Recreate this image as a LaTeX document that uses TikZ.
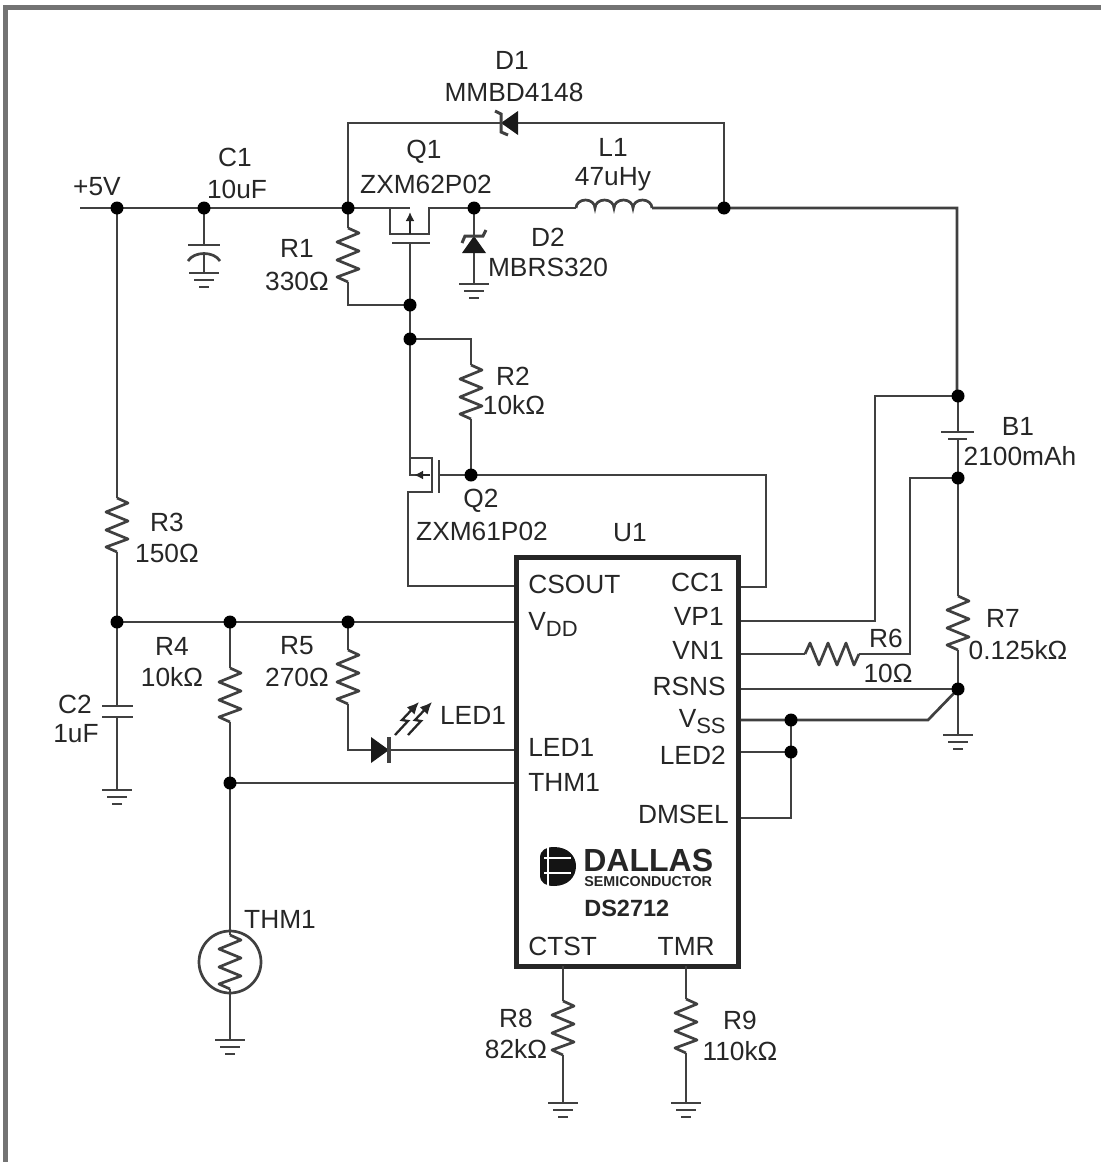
\documentclass[tikz,border=0pt]{standalone}
\usepackage{fontspec}
\setmainfont{Liberation Sans}
\usetikzlibrary{arrows.meta}
\newcommand{\pinsub}[2]{#1\raisebox{-6pt}{\fontsize{22}{22}\selectfont #2}}

\begin{document}
\begin{tikzpicture}[
  x=1pt,y=-1pt,
  line width=2.7pt,
  wire/.style={draw=black!75},
  frame/.style={draw=black!55,line width=5pt},
  chip/.style={draw=black!85,line width=5pt},
  lab/.style={inner sep=0pt,text=black!85,font=\fontsize{26.3}{28}\selectfont},
  pinl/.style={lab,anchor=west},
  pinr/.style={lab,anchor=east},
  dot/.style={fill=black,radius=6.5pt},
  resistor/.pic={
    \coordinate (-a) at (0,-27);
    \coordinate (-b) at (0,27);
    \draw[wire,line join=round] (-a) -- (11,-22) -- (-11,-13) -- (11,-4) -- (-11,5) -- (11,14) -- (-11,22) -- (-b);
  },
  ground/.pic={
    \draw[wire] (-15,0) -- (15,0) (-10,7) -- (10,7) (-5,14) -- (5,14);
  },
  diode/.pic={
    \fill[black!90] (0,-1) -- (13,17) -- (-13,17) -- cycle;
    \draw[wire,line width=3.5pt] (-13,-1) -- (13,-1);
  },
  schottky/.pic={
    \fill[black!90] (0,-1) -- (12,16) -- (-12,16) -- cycle;
    \draw[wire,line width=3pt] (-12,6) -- (-9,-1) -- (9,-1) -- (12,-7);
  },
  coil/.pic={
    \draw[wire] (0,0) foreach \i in {1,...,4} {arc[start angle=180,end angle=360,x radius=9.5,y radius=8]};
  },
  ledray/.pic={
    \draw[line width=2.3pt,draw=black!85,-{Latex[length=12pt,width=11pt]}] (0,0) -- (13,-14) -- (7,-15) -- (24,-33);
  },
]
\useasboundingbox (0,0) rectangle (1101,1162);
\draw[frame] (5,1162) -- (5,7) -- (1101,7);

\coordinate (vin) at (80,208);
\coordinate (j5v) at (117,208);
\coordinate (jc1) at (204,208);
\coordinate (jq1) at (348,208);
\coordinate (jsw) at (474,208);
\coordinate (jl1) at (724,208);
\coordinate (jr1) at (410,305);
\coordinate (jr2) at (410,339);
\coordinate (jq2) at (471,475);
\coordinate (jvp) at (958,396);
\coordinate (jvn) at (958,478);
\coordinate (jrs) at (958,689);
\coordinate (jvdd) at (117,622);
\coordinate (jr4) at (230,622);
\coordinate (jr5) at (348,622);
\coordinate (jthm) at (230,783);
\coordinate (jss) at (791,720);
\coordinate (jled) at (791,752);

\node[chip,rectangle,minimum width=222pt,minimum height=409pt,inner sep=0pt] (U1) at (627,761.5) {};

\pic (R1) at (348,255) {resistor};
\pic (R2) at (471,392) {resistor};
\pic (R3) at (117,525) {resistor};
\pic (R4) at (230,695) {resistor};
\pic (R5) at (348,677) {resistor};
\pic[rotate=90] (R6) at (832,654) {resistor};
\pic (R7) at (958,623) {resistor};
\pic (R8) at (563,1028) {resistor};
\pic (R9) at (686,1026) {resistor};
\pic (Rt) at (230,962) {resistor};

\draw[wire] (vin) -- (j5v) -- (jc1) -- (jq1) -- (390,208) -- (390,234) -- (429,234) -- (429,208) -- (jsw) -- (576,208);
\pic at (576,208) {coil};
\draw[wire] (652,208) -- (jl1) -- (957,208) -- (957,394) -- (jvp);
\draw[wire] (jq1) |- (724,123) -- (jl1);
\pic[rotate=90] at (502,123) {schottky};
\draw[wire] (390,208) -- (410,208);
\draw[line width=2pt,draw=black!85,-{Latex[length=9pt,width=9pt]}] (410,234) -- (410,212);
\draw[wire] (392,243) -- (430,243);
\draw[wire] (410,243) -- (jr1) -- (jr2) -- (410,475) -- (430,475);
\draw[line width=2pt,draw=black!85,-{Latex[length=9pt,width=9pt]}] (430,475) -- (414,475);
\draw[wire] (410,458) -- (432,458) -- (432,492) -- (408,492) -- (408,586) -- (U1.west |- 0,586);
\draw[wire] (439,460) -- (439,493);
\draw[wire] (439,475) -- (jq2) -- (766,475) -- (766,587) -- (U1.east |- 0,587);
\draw[wire] (jq1) -- (R1-a) (R1-b) -- (348,305) -- (jr1);
\draw[wire] (jr2) -- (471,339) -- (R2-a) (R2-b) -- (jq2);
\draw[wire] (jsw) -- (474,284);
\pic at (474,237) {schottky};
\pic at (474,284) {ground};
\draw[wire] (jc1) -- (204,245) (204,254) -- (204,273);
\draw[wire] (188,245) -- (220,245);
\draw[wire] (188,261) .. controls (194,251) and (214,251) .. (220,261);
\pic at (204,273) {ground};

\draw[wire] (j5v) -- (R3-a) (R3-b) -- (jvdd) -- (jr4) -- (jr5) -- (U1.west |- jr5);
\draw[wire] (jvdd) -- (117,706) (117,717) -- (117,790);
\draw[wire] (102,706) -- (133,706) (102,717) -- (133,717);
\pic at (117,790) {ground};
\draw[wire] (jr4) -- (R4-a) (R4-b) -- (jthm) -- (U1.west |- jthm);
\draw[wire] (jthm) -- (Rt-a) (Rt-b) -- (230,1040);
\draw[wire] (230,962) circle[radius=31];
\pic at (230,1040) {ground};
\draw[wire] (jr5) -- (R5-a) (R5-b) -- (348,750) -- (U1.west |- 0,750);
\pic[rotate=-90] at (388,750) {diode};
\pic at (395,735) {ledray};
\pic at (408,735) {ledray};

\draw[wire] (U1.east |- 0,621) -- (875,621) -- (875,396) -- (jvp);
\draw[wire] (jvp) -- (958,432) (958,439) -- (jvn) -- (R7-a) (R7-b) -- (jrs) -- (958,735);
\draw[wire] (941,432) -- (974,432) (948,439) -- (967,439);
\pic at (958,735) {ground};
\draw[wire] (U1.east |- 0,654) -- (R6-a) (R6-b) -- (910,654) -- (910,478) -- (jvn);
\draw[wire] (U1.east |- jrs) -- (jrs);
\draw[wire] (U1.east |- jss) -- (jss) -- (928,720) -- (jrs);
\draw[wire] (U1.east |- jled) -- (jled);
\draw[wire] (U1.east |- 0,818) -- (791,818) -- (jled) -- (jss);
\draw[wire] (563,966) -- (R8-a) (R8-b) -- (563,1103);
\draw[wire] (686,966) -- (R9-a) (R9-b) -- (686,1103);
\pic at (563,1103) {ground};
\pic at (686,1103) {ground};

\foreach \j in {j5v,jc1,jq1,jsw,jl1,jr1,jr2,jq2,jvp,jvn,jrs,jvdd,jr4,jr5,jthm,jss,jled}
  \fill[dot] (\j) circle;

\node[lab] (l5v) at (97,187) {+5V};
\node[lab] (lc1) at (235,157) {C1};
\node[lab] (lc1v) at (237,189) {10uF};
\node[lab] (ld1) at (512,60) {D1};
\node[lab] (ld1v) at (514,92) {MMBD4148};
\node[lab] (lq1) at (424,152) {Q1};
\node[lab] (lq1v) at (426,184) {ZXM62P02};
\node[lab] (ll1) at (613,147) {L1};
\node[lab] (ll1v) at (613,179) {47uHy};
\node[lab] (ld2) at (548,237) {D2};
\node[lab] (ld2v) at (548,267) {MBRS320};
\node[lab] (lr1) at (297,248) {R1};
\node[lab] (lr1v) at (297,281) {330Ω};
\node[lab] (lr2) at (513,376) {R2};
\node[lab] (lr2v) at (514,405) {10kΩ};
\node[lab] (lr3) at (167,522) {R3};
\node[lab] (lr3v) at (167,553) {150Ω};
\node[lab] (lb1) at (1018,426) {B1};
\node[lab] (lb1v) at (1020,456) {2100mAh};
\node[lab] (lq2) at (481,501) {Q2};
\node[lab] (lq2v) at (482,531) {ZXM61P02};
\node[lab] (lu1) at (630,533) {U1};
\node[lab] (lr4) at (172,646) {R4};
\node[lab] (lr4v) at (172,677) {10kΩ};
\node[lab] (lr5) at (297,646) {R5};
\node[lab] (lr5v) at (297,677) {270Ω};
\node[lab] (lc2) at (75,704) {C2};
\node[lab] (lc2v) at (76,734) {1uF};
\node[lab] (lled) at (473,715) {LED1};
\node[lab] (lr6) at (886,638) {R6};
\node[lab] (lr6v) at (888,673) {10Ω};
\node[lab] (lr7) at (1003,618) {R7};
\node[lab] (lr7v) at (1018,650) {0.125kΩ};
\node[lab] (lthm) at (280,919) {THM1};
\node[lab] (lr8) at (516,1018) {R8};
\node[lab] (lr8v) at (516,1049) {82kΩ};
\node[lab] (lr9) at (740,1020) {R9};
\node[lab] (lr9v) at (740,1051) {110kΩ};

\node[pinl] (pcs) at (527,584) {CSOUT};
\node[pinl] (pdd) at (527,624) {\pinsub{V}{DD}};
\node[pinl] (ple) at (527,747) {LED1};
\node[pinl] (pth) at (527,782) {THM1};
\node[pinl] (pct) at (527,946) {CTST};
\node[pinr] (pcc) at (725,582) {CC1};
\node[pinr] (pvp) at (725,616) {VP1};
\node[pinr] (pvn) at (725,650) {VN1};
\node[pinr] (prs) at (727,686) {RSNS};
\node[pinr] (pss) at (727,722) {\pinsub{V}{SS}};
\node[pinr] (pl2) at (727,755) {LED2};
\node[pinr] (pdm) at (730,814) {DMSEL};
\node[pinr] (ptm) at (716,946) {TMR};

\fill[black!92] (540,858) .. controls (540,850) and (546,847) .. (554,847) .. controls (568,847) and (576,856) .. (576,866) .. controls (576,877) and (568,886) .. (554,886) .. controls (546,886) and (540,883) .. (540,875) -- cycle;
\draw[white,line width=1.3pt] (548,847) -- (548,886) (544,858) -- (571,858) (544,873) -- (571,873);
\node[lab,anchor=west,font=\fontsize{32}{32}\selectfont\bfseries] (ldal) at (582,860) {DALLAS};
\node[lab,anchor=west,font=\fontsize{14.3}{15}\selectfont\bfseries] (lsem) at (583,882) {SEMICONDUCTOR};
\node[lab,anchor=west,font=\fontsize{23.5}{25}\selectfont\bfseries] (lds) at (583,908) {DS2712};
\end{tikzpicture}
\end{document}
